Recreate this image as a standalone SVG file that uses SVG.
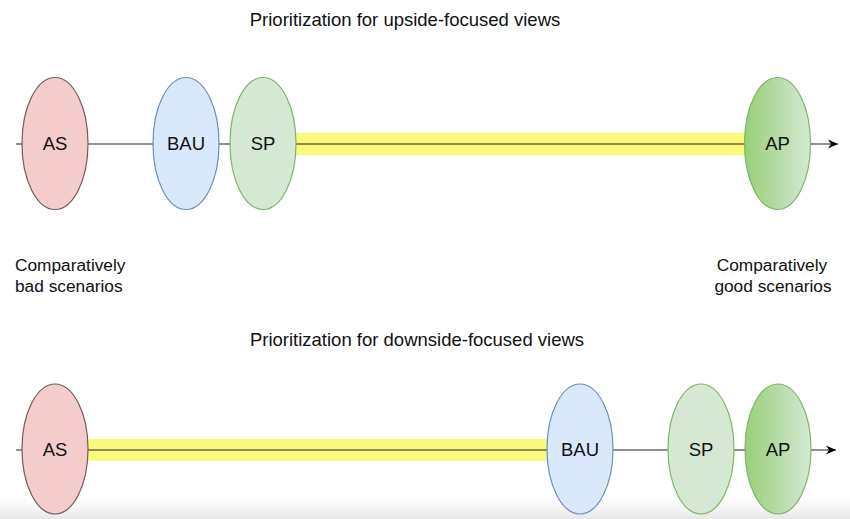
<svg xmlns="http://www.w3.org/2000/svg" width="850" height="519" viewBox="0 0 850 519">
<defs>
<linearGradient id="apg" x1="0" y1="0" x2="1" y2="0">
<stop offset="0" stop-color="#97d077"/>
<stop offset="1" stop-color="#d5e8d4"/>
</linearGradient>
<linearGradient id="shade" x1="0" y1="0" x2="0" y2="1">
<stop offset="0" stop-color="#ffffff" stop-opacity="0"/>
<stop offset="1" stop-color="#e6e6e6"/>
</linearGradient>
<marker id="arr" markerWidth="12" markerHeight="12" refX="10" refY="6" orient="auto" markerUnits="userSpaceOnUse">
<path d="M0,1.5 L10,6 L0,10.5 L3,6 Z" fill="#000"/>
</marker>
</defs>
<style>
text{font-family:"Liberation Sans",Arial,sans-serif;fill:#111;}
.t{font-size:18.5px;text-anchor:middle;}
.lbl{font-size:18.5px;text-anchor:middle;}
.side{font-size:17.3px;}
.as{fill:#f4cccc;stroke:#6e5e5e;stroke-width:1.2;}
.bau{fill:#dae8fc;stroke:#6c8ebf;stroke-width:1.2;}
.sp{fill:#d5e8d4;stroke:#82b366;stroke-width:1.2;}
.ap{fill:url(#apg);stroke:#82b366;stroke-width:1.2;}
.band{fill:#f9f97c;}
.ln{stroke:#222;stroke-width:1.2;fill:none;}
</style>
<rect x="0" y="0" width="850" height="519" fill="#fff"/>
<rect x="0" y="490" width="850" height="29" fill="url(#shade)"/>

<text class="t" x="405" y="26">Prioritization for upside-focused views</text>
<text class="t" x="417" y="346">Prioritization for downside-focused views</text>
<text class="side" x="15" y="271">Comparatively</text>
<text class="side" x="15" y="292">bad scenarios</text>
<text class="side" x="772" y="271" text-anchor="middle">Comparatively</text>
<text class="side" x="773" y="292" text-anchor="middle">good scenarios</text>

<g id="connectors">
<rect class="band" x="296" y="133" width="449" height="22"/>
<rect class="band" x="88" y="439" width="460" height="22"/>
<line class="ln" x1="16" y1="144" x2="838" y2="144" marker-end="url(#arr)"/>
<line class="ln" x1="16" y1="450" x2="836" y2="450" marker-end="url(#arr)"/>
</g>

<g id="as1"><ellipse class="as" cx="55" cy="143.5" rx="33" ry="66"/><text class="lbl" x="55" y="150">AS</text></g>
<g id="bau1"><ellipse class="bau" cx="186" cy="143.5" rx="33" ry="66"/><text class="lbl" x="186" y="150">BAU</text></g>
<g id="sp1"><ellipse class="sp" cx="263" cy="143.5" rx="33" ry="66"/><text class="lbl" x="263" y="150">SP</text></g>
<g id="ap1"><ellipse class="ap" cx="777.5" cy="143.5" rx="33" ry="66"/><text class="lbl" x="777.5" y="150">AP</text></g>

<g id="as2"><ellipse class="as" cx="55" cy="449" rx="33" ry="65"/><text class="lbl" x="55" y="456">AS</text></g>
<g id="bau2"><ellipse class="bau" cx="580" cy="449" rx="33" ry="65"/><text class="lbl" x="580" y="456">BAU</text></g>
<g id="sp2"><ellipse class="sp" cx="701" cy="449" rx="33" ry="65"/><text class="lbl" x="701" y="456">SP</text></g>
<g id="ap2"><ellipse class="ap" cx="778" cy="449" rx="33" ry="65"/><text class="lbl" x="778" y="456">AP</text></g>
</svg>
